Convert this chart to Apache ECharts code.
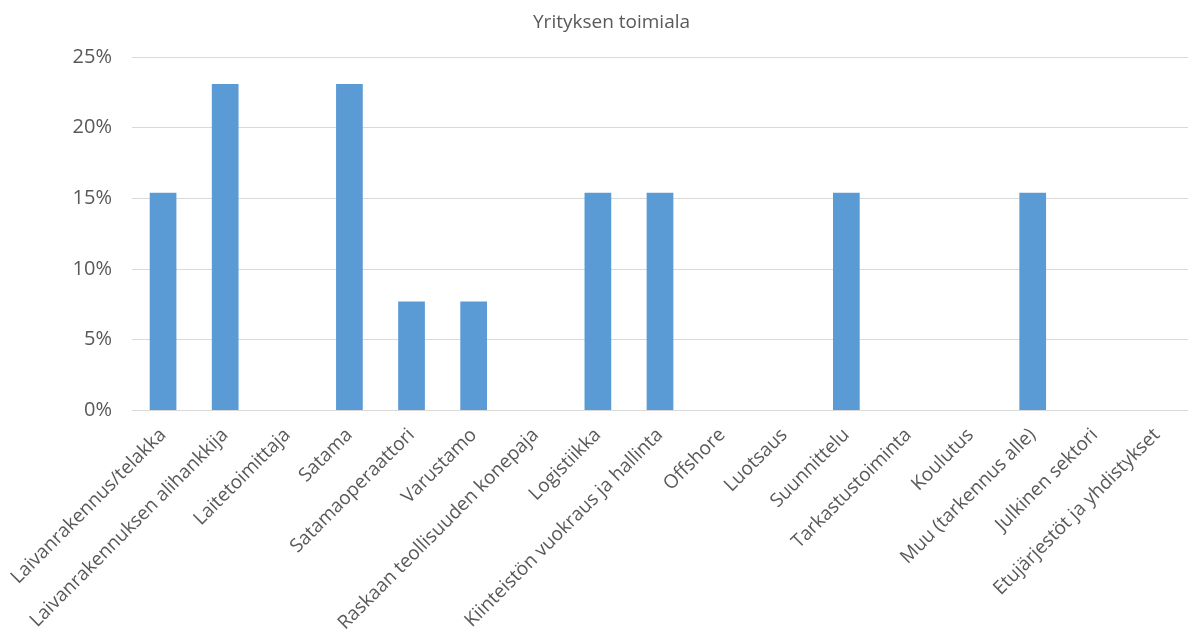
<!DOCTYPE html>
<html>
<head>
<meta charset="utf-8">
<script src="https://cdn.jsdelivr.net/npm/echarts@6/dist/echarts.min.js"></script>
<style>
  html, body { margin: 0; padding: 0; background: #fff; }
  #main { width: 1190px; height: 629px; }
</style>
</head>
<body>
<div id="main"></div>
<script>
// categories and shares (percent)
const categories = [
  'Laivanrakennus/telakka',
  'Laivanrakennuksen alihankkija',
  'Laitetoimittaja',
  'Satama',
  'Satamaoperaattori',
  'Varustamo',
  'Raskaan teollisuuden konepaja',
  'Logistiikka',
  'Kiinteistön vuokraus ja hallinta',
  'Offshore',
  'Luotsaus',
  'Suunnittelu',
  'Tarkastustoiminta',
  'Koulutus',
  'Muu (tarkennus alle)',
  'Julkinen sektori',
  'Etujärjestöt ja yhdistykset'
];
const shares = [15.38, 23.08, 0, 23.08, 7.69, 7.69, 0, 15.38, 15.38, 0, 0, 15.38, 0, 0, 15.38, 0, 0];
const yTicks = { min: 0, max: 25, step: 5 };

const myChart = echarts.init(document.getElementById('main'));
myChart.setOption({
    animation: false,
    title: {
        text: 'Yrityksen toimiala',
        left: 528,
        top: 8,
        textStyle: {
            fontFamily: 'Open Sans',
            fontSize: 19,
            fontWeight: 'normal',
            color: '#595959'
        }
    },
    grid: {
        left: 132,
        right: 2,
        top: 57,
        bottom: 219,
        outerBoundsMode: 'none'
    },
    xAxis: {
        type: 'category',
        data: categories,
        axisTick: { show: false },
        axisLine: { lineStyle: { color: '#d9d9d9', width: 1 } },
        axisLabel: {
            interval: 0,
            rotate: 45,
            margin: 22,
            fontFamily: 'Open Sans',
            fontSize: 19,
            color: '#595959'
        }
    },
    yAxis: {
        type: 'value',
        min: yTicks.min,
        max: yTicks.max,
        interval: yTicks.step,
        axisLine: { show: false },
        axisTick: { show: false },
        splitLine: { lineStyle: { color: '#d9d9d9', width: 1 } },
        axisLabel: {
            margin: 20,
            fontFamily: 'Open Sans',
            fontSize: 20,
            color: '#595959',
            formatter: function (value) {
                return value + '%';
            }
        }
    },
    series: [{
        type: 'bar',
        data: shares,
        barWidth: '43%',
        itemStyle: { color: '#5b9bd5' }
    }]
});
</script>
</body>
</html>
